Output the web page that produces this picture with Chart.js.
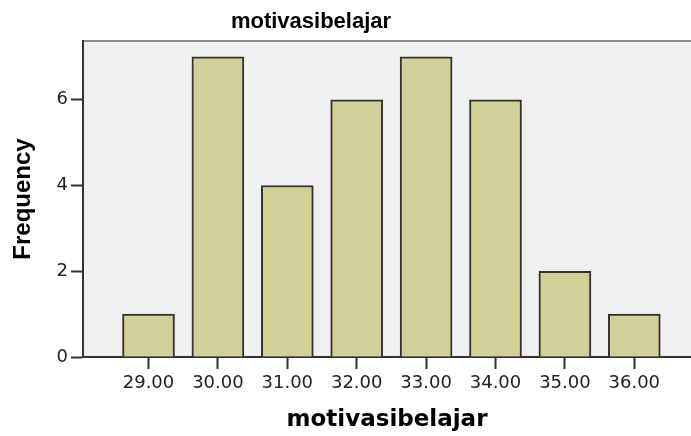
<!DOCTYPE html>
<html>
<head>
<meta charset="utf-8">
<script src="https://cdn.jsdelivr.net/npm/chart.js@4.4.0/dist/chart.umd.min.js"></script>
<style>
  html, body { margin: 0; padding: 0; background: #fff; }
</style>
</head>
<body>
<canvas id="freqChart" width="691" height="436"></canvas>
<script>
// values
const categories = [29, 30, 31, 32, 33, 34, 35, 36];
const tickLabels = ['29.00', '30.00', '31.00', '32.00', '33.00', '34.00', '35.00', '36.00'];
const frequencies = [1, 7, 4, 6, 7, 6, 2, 1];
const yTicks = [0, 2, 4, 6];
const chartTitle = 'motivasibelajar';

// grey plot background, top frame line and the (off-centre) SPSS title
const plotFrame = {
  id: 'plotFrame',
  beforeDraw(chart) {
    const { ctx, chartArea: a } = chart;
    ctx.save();
    ctx.fillStyle = '#f0f0f0';
    ctx.fillRect(a.left, a.top, a.right - a.left, a.bottom - a.top);
    ctx.strokeStyle = '#8c8c8c';
    ctx.lineWidth = 2;
    ctx.beginPath();
    ctx.moveTo(a.left, a.top);
    ctx.lineTo(a.right, a.top);
    ctx.stroke();

    ctx.fillStyle = '#000';
    ctx.font = 'bold 22px "Liberation Sans"';
    ctx.textAlign = 'center';
    ctx.textBaseline = 'alphabetic';
    ctx.fillText(chartTitle, 311, 28);
    ctx.restore();
  }
};

const tickFont = { family: 'DejaVu Sans', size: 18 };

new Chart(document.getElementById('freqChart'), {
  type: 'bar',
  data: {
    datasets: [{
      label: 'Frequency',
      data: categories.map((c, i) => ({ x: c, y: frequencies[i] })),
      backgroundColor: '#d3cf98',
      borderColor: '#333333',
      borderWidth: 2,
      barThickness: 52
    }]
  },
  options: {
    responsive: false,
    animation: false,
    devicePixelRatio: 1,
    layout: { padding: { top: 41 } },
    plugins: {
      legend: { display: false },
      tooltip: { enabled: false },
      title: { display: false }
    },
    scales: {
      x: {
        type: 'linear',
        min: 28.056,
        max: 36.817,
        offset: false,
        afterBuildTicks: s => { s.ticks = categories.map(v => ({ value: v })); },
        afterFit: s => { s.height = 79; },
        ticks: {
          autoSkip: false,
          maxRotation: 0,
          padding: 4,
          color: '#222',
          font: tickFont,
          callback: (v, i) => tickLabels[i]
        },
        grid: {
          offset: false,
          drawOnChartArea: false,
          drawTicks: true,
          tickLength: 12,
          tickColor: '#333',
          tickWidth: 2
        },
        border: { display: true, color: '#333', width: 2 },
        title: {
          display: true,
          text: 'motivasibelajar',
          color: '#000',
          font: { family: 'DejaVu Sans', size: 23, weight: 'bold' },
          padding: { top: 0, bottom: 2 }
        }
      },
      y: {
        min: 0,
        max: 7.37,
        afterBuildTicks: s => { s.ticks = yTicks.map(v => ({ value: v })); },
        afterFit: s => { s.width = 83; },
        ticks: {
          padding: 3,
          color: '#222',
          font: tickFont
        },
        grid: {
          drawOnChartArea: false,
          drawTicks: true,
          tickLength: 12,
          tickColor: '#333',
          tickWidth: 2
        },
        border: { display: true, color: '#333', width: 2 },
        title: {
          display: true,
          text: 'Frequency',
          color: '#000',
          font: { family: 'Liberation Sans', size: 24, weight: 'bold' },
          padding: { top: 9, bottom: 0 }
        }
      }
    }
  },
  plugins: [plotFrame]
});
</script>
</body>
</html>
